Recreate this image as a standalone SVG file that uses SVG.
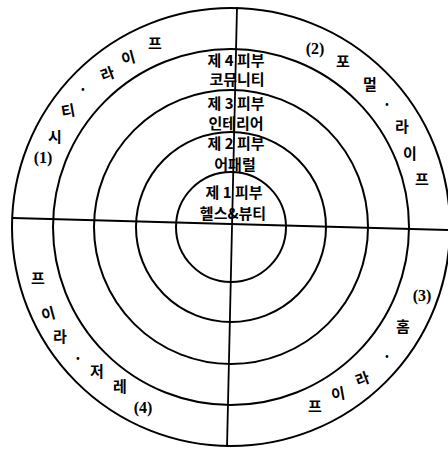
<svg xmlns="http://www.w3.org/2000/svg" width="448" height="449" viewBox="0 0 448 449">
<style>
.ring{fill:none;stroke:#000;stroke-width:2}
.ln{stroke:#000;stroke-width:1.8}
text{font-family:"Noto Sans CJK KR","Noto Sans",sans-serif;font-weight:bold;fill:#000;text-anchor:middle;dominant-baseline:central}
.c{font-size:15px}
.r{font-size:15px}
.n{font-size:16px;font-family:"Liberation Serif","Noto Sans CJK KR",serif}
</style>
<rect width="448" height="449" fill="#fff"/>
<g id="rings">
<circle class="ring" cx="231" cy="227" r="219"/>
<circle class="ring" cx="231" cy="227" r="178"/>
<circle class="ring" cx="231" cy="227" r="137"/>
<circle class="ring" cx="231" cy="227" r="95"/>
<circle class="ring" cx="231" cy="227" r="55"/>
</g>
<g id="connectors">
<line class="ln" x1="237" y1="7" x2="227" y2="447"/>
<line class="ln" x1="13" y1="218" x2="448" y2="230"/>
</g>
<g id="center-labels">
<text class="c" x="236" y="59.5">제 4 피부</text>
<text class="c" x="237" y="78.5">코뮤니티</text>
<text class="c" x="236" y="102.5">제 3 피부</text>
<text class="c" x="236" y="122.5">인테리어</text>
<text class="c" x="236" y="142.5">제 2 피부</text>
<text class="c" x="235" y="163.5">어패럴</text>
<text class="c" x="234" y="191.5">제 1 피부</text>
<text class="c" x="233" y="212.5">헬스&amp;뷰티</text>
</g>
<g id="city-life">
<text class="n" x="43" y="157">(1)</text>
<text class="r" x="55" y="135">시</text>
<text class="r" x="68" y="110" transform="rotate(-10 68 110)">티</text>
<text class="r" x="83" y="88">·</text>
<text class="r" x="107" y="73" transform="rotate(-20 107 73)">라</text>
<text class="r" x="128" y="57" transform="rotate(-15 128 57)">이</text>
<text class="r" x="155" y="42">프</text>
</g>
<g id="formal-life">
<text class="n" x="315" y="48">(2)</text>
<text class="r" x="343" y="60">포</text>
<text class="r" x="370" y="83">멀</text>
<text class="r" x="387" y="103">·</text>
<text class="r" x="402" y="125">라</text>
<text class="r" x="410" y="152">이</text>
<text class="r" x="422" y="178">프</text>
</g>
<g id="home-life">
<text class="n" x="422" y="295">(3)</text>
<text class="r" x="403" y="325">홈</text>
<text class="r" x="387" y="355">·</text>
<text class="r" x="362" y="378" transform="rotate(-20 362 378)">라</text>
<text class="r" x="338" y="393" transform="rotate(-10 338 393)">이</text>
<text class="r" x="315" y="405">프</text>
</g>
<g id="leisure-life">
<text class="n" x="143" y="407">(4)</text>
<text class="r" x="120" y="385">레</text>
<text class="r" x="97" y="370">저</text>
<text class="r" x="78" y="357">·</text>
<text class="r" x="60" y="335">라</text>
<text class="r" x="48" y="313" transform="rotate(-15 48 313)">이</text>
<text class="r" x="38" y="277">프</text>
</g>
</svg>
